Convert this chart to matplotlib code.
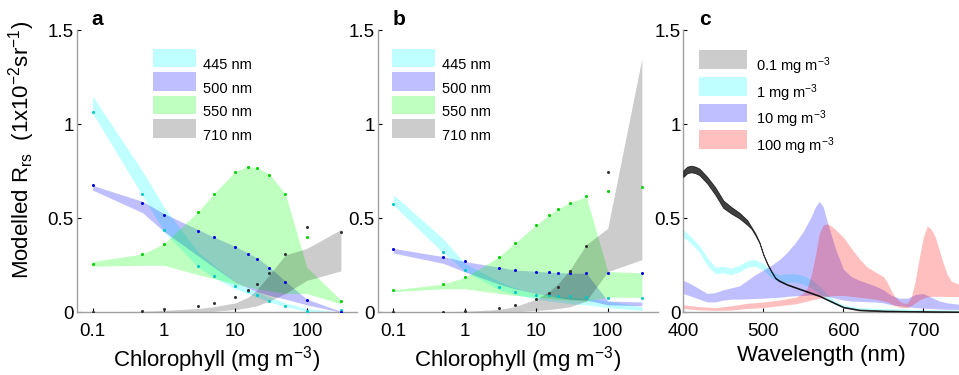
import numpy as np
import matplotlib
matplotlib.use("Agg")
import matplotlib.pyplot as plt
from matplotlib.patches import Patch

plt.rcParams['font.family'] = ['Liberation Sans', 'DejaVu Sans']
plt.rcParams['mathtext.default'] = 'regular'

# ---- panels a and b: Rrs against chlorophyll at four wavelengths ----
chl = [0.1, 0.5, 1, 3, 5, 10, 15, 20, 30, 50, 100, 300]
band_names = ['445 nm', '500 nm', '550 nm', '710 nm']

# panel a (band lower / upper, reference points)
a445_lo = [1.06, 0.62, 0.43, 0.24, 0.185, 0.125, 0.10, 0.08, 0.055, 0.03, 0.005, 0.0]
a445_hi = [1.15, 0.75, 0.56, 0.32, 0.25, 0.16, 0.13, 0.11, 0.08, 0.05, 0.02, 0.0]
a500_lo = [0.65, 0.53, 0.43, 0.30, 0.24, 0.16, 0.13, 0.11, 0.09, 0.07, 0.04, 0.0]
a500_hi = [0.675, 0.59, 0.525, 0.44, 0.40, 0.35, 0.315, 0.29, 0.24, 0.165, 0.07, 0.005]
a550_lo = [0.245, 0.25, 0.25, 0.20, 0.18, 0.15, 0.135, 0.125, 0.115, 0.10, 0.10, 0.045]
a550_hi = [0.27, 0.31, 0.365, 0.535, 0.63, 0.75, 0.775, 0.77, 0.735, 0.63, 0.24, 0.065]
a710_lo = [0.0, 0.0, 0.0, 0.002, 0.005, 0.015, 0.025, 0.035, 0.06, 0.10, 0.17, 0.22]
a710_hi = [0.003, 0.005, 0.01, 0.02, 0.03, 0.05, 0.08, 0.12, 0.2, 0.305, 0.34, 0.44]
a445_pts = [1.067, 0.628, 0.438, 0.248, 0.193, 0.140, 0.113, 0.092, 0.062, 0.034, 0.009, 0.01]
a500_pts = [0.675, 0.584, 0.519, 0.435, 0.40, 0.348, 0.311, 0.284, 0.234, 0.162, 0.066, 0.003]
a550_pts = [0.256, 0.309, 0.364, 0.533, 0.631, 0.748, 0.771, 0.767, 0.732, 0.629, 0.40, 0.06]
a710_pts = [0.003, 0.005, 0.016, 0.034, 0.048, 0.083, 0.119, 0.151, 0.211, 0.309, 0.456, 0.427]

# panel b
b445_lo = [0.57, 0.315, 0.22, 0.12, 0.095, 0.07, 0.06, 0.055, 0.045, 0.04, 0.025, 0.01]
b445_hi = [0.625, 0.39, 0.26, 0.165, 0.13, 0.10, 0.09, 0.085, 0.08, 0.075, 0.06, 0.03]
b500_lo = [0.315, 0.26, 0.215, 0.15, 0.125, 0.10, 0.09, 0.08, 0.07, 0.065, 0.04, 0.035]
b500_hi = [0.34, 0.296, 0.27, 0.24, 0.225, 0.218, 0.213, 0.211, 0.208, 0.208, 0.06, 0.055]
b550_lo = [0.11, 0.125, 0.125, 0.10, 0.09, 0.08, 0.075, 0.07, 0.065, 0.06, 0.08, 0.08]
b550_hi = [0.12, 0.15, 0.186, 0.295, 0.368, 0.465, 0.517, 0.549, 0.584, 0.616, 0.217, 0.21]
b710_lo = [0.0, 0.0, 0.0, 0.0, 0.002, 0.01, 0.015, 0.02, 0.03, 0.06, 0.216, 0.28]
b710_hi = [0.003, 0.003, 0.005, 0.015, 0.03, 0.07, 0.11, 0.15, 0.23, 0.36, 0.447, 1.35]
b445_pts = [0.577, 0.323, 0.225, 0.133, 0.11, 0.092, 0.092, 0.089, 0.085, 0.083, 0.078, 0.078]
b500_pts = [0.336, 0.295, 0.272, 0.238, 0.225, 0.217, 0.213, 0.211, 0.208, 0.208, 0.208, 0.207]
b550_pts = [0.119, 0.149, 0.186, 0.295, 0.368, 0.465, 0.517, 0.549, 0.584, 0.616, 0.643, 0.666]
b710_pts = [0.003, 0.002, 0.005, 0.021, 0.039, 0.071, 0.101, 0.137, 0.22, 0.355, 0.748, np.nan]

# ---- panel c: spectra for four chlorophyll levels ----
conc_names = ['0.1 mg m$^{-3}$', '1 mg m$^{-3}$', '10 mg m$^{-3}$', '100 mg m$^{-3}$']

wl01 = [400, 405, 410, 415, 420, 430, 440, 450, 460, 470, 480, 485, 490, 495, 500, 505,
        510, 515, 520, 530, 540, 550, 560, 570, 580, 590, 600, 620, 650, 700, 750]
c01_hi = [0.755, 0.775, 0.78, 0.775, 0.765, 0.72, 0.665, 0.595, 0.56, 0.53, 0.49, 0.455,
          0.42, 0.375, 0.31, 0.26, 0.22, 0.185, 0.17, 0.15, 0.135, 0.12, 0.105, 0.09,
          0.07, 0.05, 0.03, 0.015, 0.01, 0.006, 0.005]
c01_lo = [0.72, 0.74, 0.745, 0.74, 0.73, 0.685, 0.625, 0.555, 0.525, 0.50, 0.465, 0.445,
          0.41, 0.37, 0.305, 0.255, 0.215, 0.18, 0.165, 0.145, 0.13, 0.115, 0.10, 0.085,
          0.065, 0.045, 0.025, 0.01, 0.005, 0.003, 0.002]

wl1 = [400, 410, 420, 430, 440, 450, 460, 470, 480, 490, 500, 510, 520, 530, 540, 550,
       560, 570, 580, 590, 600, 620, 650, 700, 750]
c1_hi = [0.44, 0.40, 0.355, 0.29, 0.24, 0.245, 0.235, 0.25, 0.275, 0.28, 0.26, 0.22, 0.20,
         0.205, 0.205, 0.195, 0.175, 0.14, 0.095, 0.06, 0.04, 0.025, 0.02, 0.015, 0.012]
c1_lo = [0.40, 0.365, 0.32, 0.25, 0.205, 0.21, 0.20, 0.215, 0.24, 0.245, 0.225, 0.185, 0.16,
         0.16, 0.16, 0.15, 0.13, 0.10, 0.065, 0.04, 0.025, 0.015, 0.01, 0.008, 0.006]

wl10 = [400, 410, 420, 430, 440, 450, 460, 470, 480, 490, 500, 510, 520, 530, 540, 550,
        560, 565, 570, 575, 580, 590, 600, 610, 620, 630, 640, 650, 660, 670, 680, 690,
        700, 710, 720, 730, 750]
c10_hi = [0.17, 0.15, 0.125, 0.10, 0.105, 0.12, 0.13, 0.14, 0.17, 0.20, 0.225, 0.25, 0.28,
          0.32, 0.37, 0.43, 0.51, 0.56, 0.59, 0.56, 0.48, 0.34, 0.23, 0.19, 0.17, 0.155,
          0.14, 0.12, 0.09, 0.075, 0.075, 0.095, 0.10, 0.08, 0.06, 0.05, 0.04]
c10_lo = [0.10, 0.085, 0.07, 0.055, 0.055, 0.065, 0.07, 0.07, 0.072, 0.074, 0.075, 0.078,
          0.08, 0.085, 0.088, 0.09, 0.092, 0.092, 0.09, 0.088, 0.085, 0.075, 0.065, 0.06,
          0.058, 0.056, 0.055, 0.05, 0.04, 0.035, 0.03, 0.025, 0.022, 0.02, 0.018, 0.016,
          0.015]

wl100 = [400, 420, 440, 460, 480, 500, 520, 540, 550, 555, 560, 565, 570, 575, 580, 585,
         590, 600, 610, 620, 630, 640, 650, 655, 660, 665, 670, 675, 680, 685, 690, 695,
         700, 705, 710, 715, 720, 725, 730, 735, 750]
c100_hi = [0.04, 0.03, 0.025, 0.035, 0.048, 0.055, 0.065, 0.08, 0.10, 0.13, 0.20, 0.30,
           0.42, 0.465, 0.47, 0.46, 0.44, 0.40, 0.34, 0.285, 0.24, 0.215, 0.19, 0.16,
           0.115, 0.08, 0.06, 0.05, 0.048, 0.08, 0.17, 0.29, 0.40, 0.46, 0.44, 0.40,
           0.33, 0.26, 0.20, 0.165, 0.14]
c100_lo = [0.02, 0.013, 0.01, 0.012, 0.02, 0.025, 0.035, 0.045, 0.055, 0.06, 0.065, 0.07,
           0.075, 0.08, 0.085, 0.088, 0.09, 0.09, 0.085, 0.08, 0.075, 0.07, 0.06, 0.055,
           0.045, 0.035, 0.028, 0.025, 0.025, 0.035, 0.05, 0.065, 0.075, 0.082, 0.085,
           0.085, 0.085, 0.085, 0.084, 0.084, 0.083]

fill_cols = ['cyan', 'blue', 'lime', 'black']
dot_cols = ['#00c8c8', '#0000dd', '#00d000', '#333333']
spine_col = '#a0a0a0'


def style_axes(ax):
    for side in ['top', 'right']:
        ax.spines[side].set_visible(False)
    for side in ['left', 'bottom']:
        ax.spines[side].set_color(spine_col)
        ax.spines[side].set_linewidth(1.0)
    ax.set_ylim(0, 1.5)
    ax.set_yticks([0, 0.5, 1, 1.5])
    ax.set_yticklabels(['0', '0.5', '1', '1.5'])
    ax.tick_params(axis='both', direction='in', length=3, width=0.8, color='k',
                   labelsize=13.5)
    ax.tick_params(axis='y', pad=2)
    ax.tick_params(axis='x', pad=8)


def add_legend(ax, handles, labels, x, hl, pad):
    leg = ax.legend(handles, labels, loc='upper left', bbox_to_anchor=(x, 0.934),
                    frameon=False, fontsize=10.5, handlelength=hl, handleheight=1.58,
                    labelspacing=0.34, handletextpad=pad, borderpad=0, borderaxespad=0)
    # text sits a bit below the swatch centre, as in the original
    for t in leg.get_texts():
        t.set_position((0, -6.5))
    return leg


def chl_panel(ax, bands, points, letter, leg_x, leg_pad):
    handles = []
    for (lo, hi), col in zip(bands, fill_cols):
        alpha = 0.2 if col == 'black' else 0.25
        h = ax.fill_between(chl, lo, hi, color=col, alpha=alpha, lw=0)
        handles.append(h)
    for pts, col in zip(points, dot_cols):
        ax.plot(chl, pts, ls='none', marker='o', ms=2.2, color=col, mec='none', zorder=5)
    ax.set_xscale('log')
    ax.set_xlim(0.06, 500)
    ax.set_xticks([0.1, 1, 10, 100])
    ax.set_xticklabels(['0.1', '1', '10', '100'])
    ax.xaxis.set_minor_locator(matplotlib.ticker.NullLocator())
    style_axes(ax)
    ax.set_xlabel('Chlorophyll (mg m$^{-3}$)', fontsize=16, labelpad=3)
    ax.text(0.052, 1.018, letter, transform=ax.transAxes, fontsize=15,
            fontweight='bold', va='baseline')
    add_legend(ax, handles, band_names, leg_x, 2.95, leg_pad)


fig = plt.figure(figsize=(9.59, 3.75), dpi=100)
ax_a = fig.add_axes([0.0800, 0.1672, 0.2920, 0.752])
ax_b = fig.add_axes([0.3938, 0.1672, 0.2920, 0.752])
ax_c = fig.add_axes([0.7125, 0.1672, 0.2875, 0.752])

chl_panel(ax_a, [(a445_lo, a445_hi), (a500_lo, a500_hi), (a550_lo, a550_hi), (a710_lo, a710_hi)],
          [a445_pts, a500_pts, a550_pts, a710_pts], 'a', 0.2714, 0.48)
chl_panel(ax_b, [(b445_lo, b445_hi), (b500_lo, b500_hi), (b550_lo, b550_hi), (b710_lo, b710_hi)],
          [b445_pts, b500_pts, b550_pts, b710_pts], 'b', 0.052, 0.43)

ax_a.set_ylabel('Modelled R$_{rs}$  (1x10$^{-2}$sr$^{-1}$)', fontsize=16)
ax_a.yaxis.set_label_coords(-0.142, 0.575)

# panel c
ax_c.fill_between(wl01, c01_lo, c01_hi, color='black', alpha=0.75, lw=0.6, zorder=3)
ax_c.fill_between(wl1, c1_lo, c1_hi, color='cyan', alpha=0.25, lw=0)
ax_c.fill_between(wl10, c10_lo, c10_hi, color='blue', alpha=0.25, lw=0)
ax_c.fill_between(wl100, c100_lo, c100_hi, color='red', alpha=0.25, lw=0)
ax_c.set_xlim(400, 744.6)
ax_c.set_xticks([400, 500, 600, 700])
style_axes(ax_c)
ax_c.set_xlabel('Wavelength (nm)', fontsize=16, labelpad=3)
ax_c.text(0.058, 1.018, 'c', transform=ax_c.transAxes, fontsize=15,
          fontweight='bold', va='baseline')
c_handles = [Patch(facecolor=c, alpha=a, lw=0) for c, a in
             [('black', 0.2), ('cyan', 0.25), ('blue', 0.25), ('red', 0.25)]]
add_legend(ax_c, c_handles, conc_names, 0.058, 3.3, 0.6)

fig.savefig('out.png', dpi=100)
